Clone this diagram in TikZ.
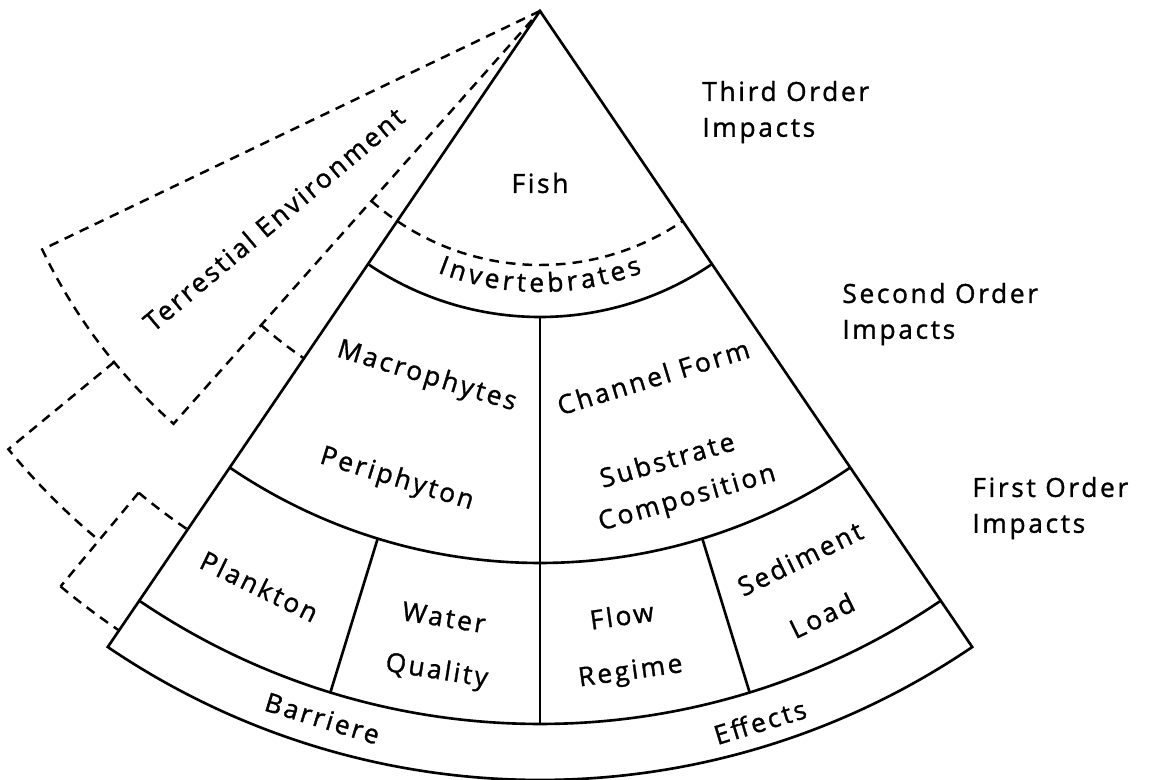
\documentclass[tikz,border=0pt]{standalone}
\usepackage{fontspec}
\setmainfont{Open Sans}[LetterSpace=10, FakeBold=1.2]
\usetikzlibrary{decorations.text}

\begin{document}
\begin{tikzpicture}[x=0.02cm,y=0.02cm,
    lbl/.style={font=\fontsize{15}{20.4}\selectfont, inner sep=0pt},
    imp/.style={lbl, align=left, anchor=west},
    solid line/.style={line width=1.5pt},
    tdash/.style={line width=1.4pt, dash pattern=on 5.5pt off 4pt}]
    \useasboundingbox (0,0) rectangle (1149,-779);
    \coordinate (A) at (540,-11);
    \draw[solid line] (A) -- ([shift={(A)}]235.8:769) arc (235.8:304.2:769) -- cycle;
    \draw[solid line] ([shift={(A)}]235.8:306) arc (235.8:304.2:306);
    \draw[solid line] ([shift={(A)}]235.8:552) arc (235.8:304.2:552);
    \draw[solid line] ([shift={(A)}]235.8:713) arc (235.8:304.2:713);
    \draw[solid line] ([shift={(A)}]270:306) -- ([shift={(A)}]270:713);
    \draw[solid line] ([shift={(A)}]252.9:552) -- ([shift={(A)}]252.9:713);
    \draw[solid line] ([shift={(A)}]287.1:552) -- ([shift={(A)}]287.1:713);
    \draw[tdash] ([shift={(A)}]228.4:254) arc (228.4:304.2:254);
    \draw[tdash] (A) -- ([shift={(A)}]205.6:552) arc (205.6:228.4:552) -- (A);
    \draw[tdash] ([shift={(A)}]228.4:420) arc (228.4:235.8:420);
    \draw[tdash] ([shift={(A)}]219.5:552) -- ([shift={(A)}]219.5:689) arc (219.5:230.2:689);
    \draw[tdash] ([shift={(A)}]230.2:627) -- ([shift={(A)}]230.2:749);
    \draw[tdash] ([shift={(A)}]230.2:627) arc (230.2:235.8:627);
    \draw[tdash] ([shift={(A)}]230.2:749) arc (230.2:235.8:749);
    \node[lbl] (fish) at ([shift={(A)}]270:172) {Fish};
    \path[decorate, decoration={text along path, text align=fit to path,
        text={|\fontsize{15}{20.4}\selectfont|Invertebrates}}]
        ([shift={(A)}]248.6:281) arc (248.6:291.4:281);
    \node[lbl, rotate=40] (terr) at ([shift={(A)}]218:338) {Terrestial Environment};
    \node[lbl, rotate=-17] (macro) at ([shift={(A)}]252.8:383) {Macrophytes};
    \node[lbl, rotate=-17] (peri) at ([shift={(A)}]253:490) {Periphyton};
    \node[lbl, rotate=17] (channel) at ([shift={(A)}]287.2:383) {Channel Form};
    \node[lbl, rotate=16] (subs) at ([shift={(A)}]285.8:466) {Substrate};
    \node[lbl, rotate=16] (comp) at ([shift={(A)}]286.8:510) {Composition};
    \node[lbl, rotate=-26] (plank) at ([shift={(A)}]244:640) {Plankton};
    \node[lbl, rotate=-9] (water) at ([shift={(A)}]261:614) {Water};
    \node[lbl, rotate=-9] (qual) at ([shift={(A)}]261.1:669) {Quality};
    \node[lbl, rotate=8] (flow) at ([shift={(A)}]277.7:610) {Flow};
    \node[lbl, rotate=8] (regime) at ([shift={(A)}]277.8:668) {Regime};
    \node[lbl, rotate=26] (sed) at ([shift={(A)}]295.4:606) {Sediment};
    \node[lbl, rotate=26] (load) at ([shift={(A)}]295:667) {Load};
    \node[lbl, rotate=-17] (barr) at ([shift={(A)}]252.9:740) {Barriere};
    \node[lbl, rotate=17] (eff) at ([shift={(A)}]287.2:744) {Effects};
    \node[imp] (third) at (702,-112) {Third Order\\Impacts};
    \node[imp] (second) at (842,-314) {Second Order\\Impacts};
    \node[imp] (first) at (972,-508) {First Order\\Impacts};
\end{tikzpicture}
\end{document}
